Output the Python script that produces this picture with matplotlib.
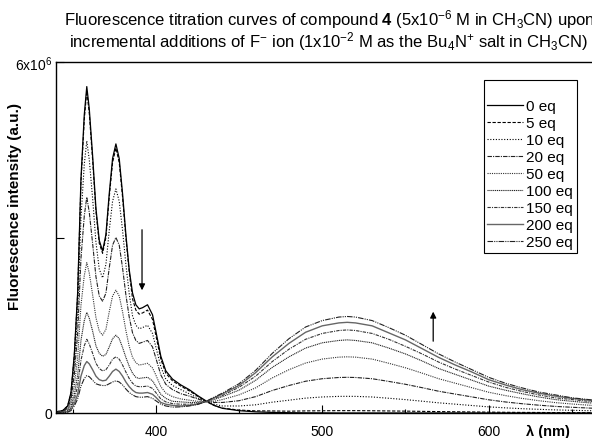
#!/usr/bin/python3

# plotting package imports
import matplotlib
matplotlib.use("Agg")
import matplotlib.pyplot as plt

plt.rcParams['font.family'] = ['Liberation Sans', 'DejaVu Sans']
plt.rcParams['mathtext.fontset'] = 'custom'
plt.rcParams['mathtext.rm'] = 'Liberation Sans'
plt.rcParams['mathtext.it'] = 'Liberation Sans:italic'
plt.rcParams['mathtext.bf'] = 'Liberation Sans:bold'

# wavelengths (nm)
wavelength = [340, 344, 347, 349, 351, 353, 355, 357, 358.5, 360,
              362, 364, 366, 368, 370, 372, 374, 376, 378, 380,
              382, 384, 386, 388, 390, 392, 395, 398, 400, 403,
              406, 410, 415, 420, 425, 430,
              435, 440, 450, 460, 470, 480, 490, 500, 510, 515,
              520, 530, 540, 550, 560, 570, 580, 590, 600, 610,
              620, 630, 640, 650, 660, 670, 680, 690, 700]

# intensities in units of 1e6
eq0 = [0.02, 0.04, 0.12, 0.35, 1.0, 2.05, 4.0, 5.1, 5.58, 5.2,
       4.4, 3.5, 2.95, 2.77, 3.05, 3.75, 4.35, 4.6, 4.35, 3.75,
       3.05, 2.45, 2.05, 1.85, 1.78, 1.8, 1.85, 1.68, 1.4, 0.97,
       0.72, 0.58, 0.48, 0.40, 0.30, 0.21,
       0.13, 0.08, 0.04, 0.02, 0.01, 0.005, 0.003, 0.002, 0.0, 0.0,
       0.0, 0.0, 0.0, 0.0, 0.0, 0.0, 0.0, 0.0, 0.0, 0.0,
       0.0, 0.0, 0.0, 0.0, 0.0, 0.0, 0.0, 0.0, 0.0]
eq5 = [0.02, 0.04, 0.12, 0.34, 0.98, 2.02, 3.94, 5.02, 5.5, 5.12,
       4.33, 3.45, 2.9, 2.73, 3.0, 3.69, 4.28, 4.53, 4.28, 3.69,
       3.0, 2.41, 1.95, 1.76, 1.69, 1.71, 1.76, 1.6, 1.33, 0.92,
       0.68, 0.55, 0.46, 0.38, 0.29, 0.2,
       0.13, 0.084, 0.05, 0.037, 0.035, 0.031, 0.036, 0.038, 0.04, 0.04,
       0.04, 0.038, 0.035, 0.032, 0.028, 0.024, 0.021, 0.018, 0.015, 0.012,
       0.010, 0.009, 0.007, 0.006, 0.006, 0.005, 0.004, 0.003, 0.003]
eq10 = [0.02, 0.03, 0.1, 0.29, 0.83, 1.71, 3.33, 4.25, 4.65, 4.33,
        3.67, 2.92, 2.46, 2.31, 2.54, 3.12, 3.62, 3.83, 3.62, 3.12,
        2.54, 2.04, 1.66, 1.5, 1.44, 1.46, 1.5, 1.36, 1.13, 0.79,
        0.58, 0.47, 0.4, 0.33, 0.26, 0.2,
        0.15, 0.12, 0.12, 0.14, 0.185, 0.219, 0.254, 0.274, 0.284, 0.285,
        0.284, 0.274, 0.252, 0.229, 0.202, 0.174, 0.151, 0.128, 0.105, 0.088,
        0.074, 0.063, 0.053, 0.046, 0.04, 0.034, 0.029, 0.024, 0.02]
eq20 = [0.01, 0.03, 0.08, 0.23, 0.66, 1.35, 2.64, 3.37, 3.69, 3.43,
        2.9, 2.33, 2.0, 1.91, 2.05, 2.48, 2.87, 3.0, 2.87, 2.48,
        2.02, 1.64, 1.37, 1.24, 1.19, 1.21, 1.24, 1.13, 0.94, 0.65,
        0.49, 0.4, 0.33, 0.29, 0.24, 0.2,
        0.18, 0.18, 0.21, 0.28, 0.385, 0.47, 0.543, 0.586, 0.607, 0.61,
        0.607, 0.586, 0.54, 0.491, 0.433, 0.372, 0.323, 0.275, 0.226, 0.189,
        0.159, 0.134, 0.113, 0.098, 0.085, 0.073, 0.061, 0.052, 0.043]
eq50 = [0.01, 0.02, 0.06, 0.16, 0.46, 0.94, 1.84, 2.35, 2.57, 2.39,
        2.02, 1.63, 1.4, 1.33, 1.43, 1.73, 2.0, 2.1, 2.0, 1.73,
        1.41, 1.14, 0.95, 0.86, 0.82, 0.83, 0.85, 0.77, 0.65, 0.45,
        0.34, 0.28, 0.24, 0.22, 0.2, 0.19,
        0.2, 0.23, 0.31, 0.43, 0.6, 0.74, 0.854, 0.922, 0.955, 0.96,
        0.955, 0.922, 0.85, 0.773, 0.682, 0.586, 0.509, 0.432, 0.355, 0.298,
        0.25, 0.211, 0.178, 0.154, 0.134, 0.115, 0.096, 0.082, 0.067]
eq100 = [0.01, 0.01, 0.04, 0.11, 0.31, 0.64, 1.24, 1.58, 1.72, 1.62,
         1.4, 1.15, 1.02, 0.97, 1.0, 1.13, 1.27, 1.33, 1.27, 1.12,
         0.95, 0.8, 0.68, 0.61, 0.59, 0.6, 0.61, 0.55, 0.46, 0.32,
         0.25, 0.2, 0.19, 0.18, 0.18, 0.195,
         0.23, 0.28, 0.39, 0.56, 0.78, 0.96, 1.11, 1.2, 1.24, 1.25,
         1.24, 1.2, 1.11, 1.01, 0.89, 0.76, 0.66, 0.56, 0.46, 0.39,
         0.33, 0.275, 0.23, 0.2, 0.175, 0.15, 0.125, 0.105, 0.088]
eq150 = [0.005, 0.01, 0.03, 0.08, 0.23, 0.46, 0.9, 1.15, 1.26, 1.18,
         1.02, 0.85, 0.76, 0.72, 0.74, 0.82, 0.92, 0.96, 0.92, 0.82,
         0.7, 0.59, 0.51, 0.46, 0.45, 0.45, 0.46, 0.42, 0.35, 0.24,
         0.19, 0.16, 0.15, 0.15, 0.16, 0.195,
         0.25, 0.3, 0.44, 0.63, 0.88, 1.09, 1.26, 1.36, 1.41, 1.42,
         1.41, 1.36, 1.26, 1.14, 1.01, 0.87, 0.75, 0.64, 0.53, 0.44,
         0.37, 0.31, 0.26, 0.23, 0.2, 0.17, 0.14, 0.12, 0.1]
eq200 = [0.005, 0.01, 0.02, 0.06, 0.16, 0.32, 0.63, 0.81, 0.88, 0.84,
         0.74, 0.63, 0.57, 0.55, 0.56, 0.63, 0.71, 0.75, 0.71, 0.63,
         0.53, 0.45, 0.39, 0.35, 0.34, 0.34, 0.35, 0.32, 0.27, 0.18,
         0.15, 0.13, 0.12, 0.13, 0.15, 0.195,
         0.26, 0.325, 0.47, 0.69, 0.96, 1.19, 1.38, 1.49, 1.54, 1.55,
         1.54, 1.49, 1.37, 1.25, 1.1, 0.95, 0.82, 0.7, 0.57, 0.48,
         0.4, 0.34, 0.29, 0.25, 0.22, 0.19, 0.155, 0.13, 0.11]
eq250 = [0.005, 0.005, 0.015, 0.04, 0.12, 0.24, 0.46, 0.59, 0.64, 0.62,
         0.56, 0.5, 0.48, 0.47, 0.47, 0.5, 0.53, 0.55, 0.53, 0.48,
         0.41, 0.35, 0.31, 0.28, 0.27, 0.27, 0.28, 0.25, 0.21, 0.15,
         0.12, 0.1, 0.105, 0.12, 0.145, 0.195,
         0.27, 0.34, 0.5, 0.73, 1.02, 1.27, 1.47, 1.58, 1.64, 1.65,
         1.64, 1.58, 1.46, 1.33, 1.17, 1.01, 0.87, 0.74, 0.61, 0.51,
         0.43, 0.36, 0.31, 0.26, 0.23, 0.2, 0.165, 0.14, 0.115]

curves = [eq0, eq5, eq10, eq20, eq50, eq100, eq150, eq200, eq250]
labels = ["0 eq", "5 eq", "10 eq", "20 eq", "50 eq", "100 eq", "150 eq", "200 eq", "250 eq"]

# plotting parameters
styles = ['-', (0, (3, 1.5)), (0, (1, 1.5)), (0, (4, 1, 1, 1)), (0, (1, 1)),
          (0, (1, 0.7)), (0, (3, 1, 1, 1)), '-', (0, (5, 1, 1, 1, 1, 1))]
colors = ['black', 'black', 'black', '#222222', '#333333',
          '#222222', '#333333', '#666666', '#222222']
widths = [0.9, 0.8, 0.8, 0.8, 0.8, 0.8, 0.8, 1.0, 0.8]

W, H = 592, 439


def plot_titration():
    fig = plt.figure(figsize=(W / 100, H / 100), dpi=100)
    # axes run off the right edge of the picture like in the reference
    ax = fig.add_axes([56 / W, (H - 414) / H, 599 / W, 351 / H])

    for vals, lab, ls, col, lw in zip(curves, labels, styles, colors, widths):
        ax.plot(wavelength, vals, linestyle=ls, color=col, linewidth=lw, label=lab)

    ax.set_xlim(340, 700)
    ax.set_ylim(0, 6)
    ax.set_xticks([400, 500, 600])
    ax.set_xticks([350, 450, 550, 650], minor=True)
    ax.set_yticks([0, 3, 6])
    ax.set_yticklabels(['0', '', r'6x10$^6$'])
    ax.tick_params(direction='in', length=6, width=0.8, labelsize=10)
    ax.tick_params(which='minor', direction='in', length=3, width=0.8)
    ax.tick_params(axis='x', pad=8)
    ax.tick_params(axis='y', pad=3)
    for sp in ax.spines.values():
        sp.set_linewidth(1.0)

    # arrows showing the change with added fluoride
    ax.annotate('', xy=(391.7, 2.05), xytext=(391.7, 3.18),
                arrowprops=dict(arrowstyle='-|>', color='black', lw=0.9, mutation_scale=9))
    ax.annotate('', xy=(566.7, 1.78), xytext=(566.7, 1.18),
                arrowprops=dict(arrowstyle='-|>', color='black', lw=0.9, mutation_scale=9))

    leg = ax.legend(loc='upper right', bbox_to_anchor=(577 / W, (H - 81) / H),
                    bbox_transform=fig.transFigure, fontsize=11, frameon=True,
                    fancybox=False, framealpha=1, edgecolor='black',
                    handlelength=2.35, handletextpad=0.2, labelspacing=0.2,
                    borderpad=0.25, borderaxespad=0, title=' ', title_fontsize=9)
    leg.get_frame().set_linewidth(0.8)

    # titles and labels (first line runs past the right edge, as in the reference)
    fig.text(0.557, (H - 25) / H,
             r"Fluorescence titration curves of compound $\mathbf{4}$ (5x10$^{-6}$ M in CH$_3$CN) upon",
             ha='center', va='baseline', fontsize=12)
    fig.text(0.554, (H - 47) / H,
             r"incremental additions of F$^{-}$ ion (1x10$^{-2}$ M as the Bu$_4$N$^{+}$ salt in CH$_3$CN)",
             ha='center', va='baseline', fontsize=12)
    fig.text(15 / W, (H - 207) / H, "Fluorescence intensity (a.u.)", rotation=90,
             ha='center', va='center', fontsize=11, fontweight='bold')
    fig.text(548 / W, (H - 436) / H, "λ (nm)", ha='center', va='baseline',
             fontsize=10.5, fontweight='bold')

    fig.savefig("out.png", dpi=100)


if __name__ == "__main__":
    plot_titration()
